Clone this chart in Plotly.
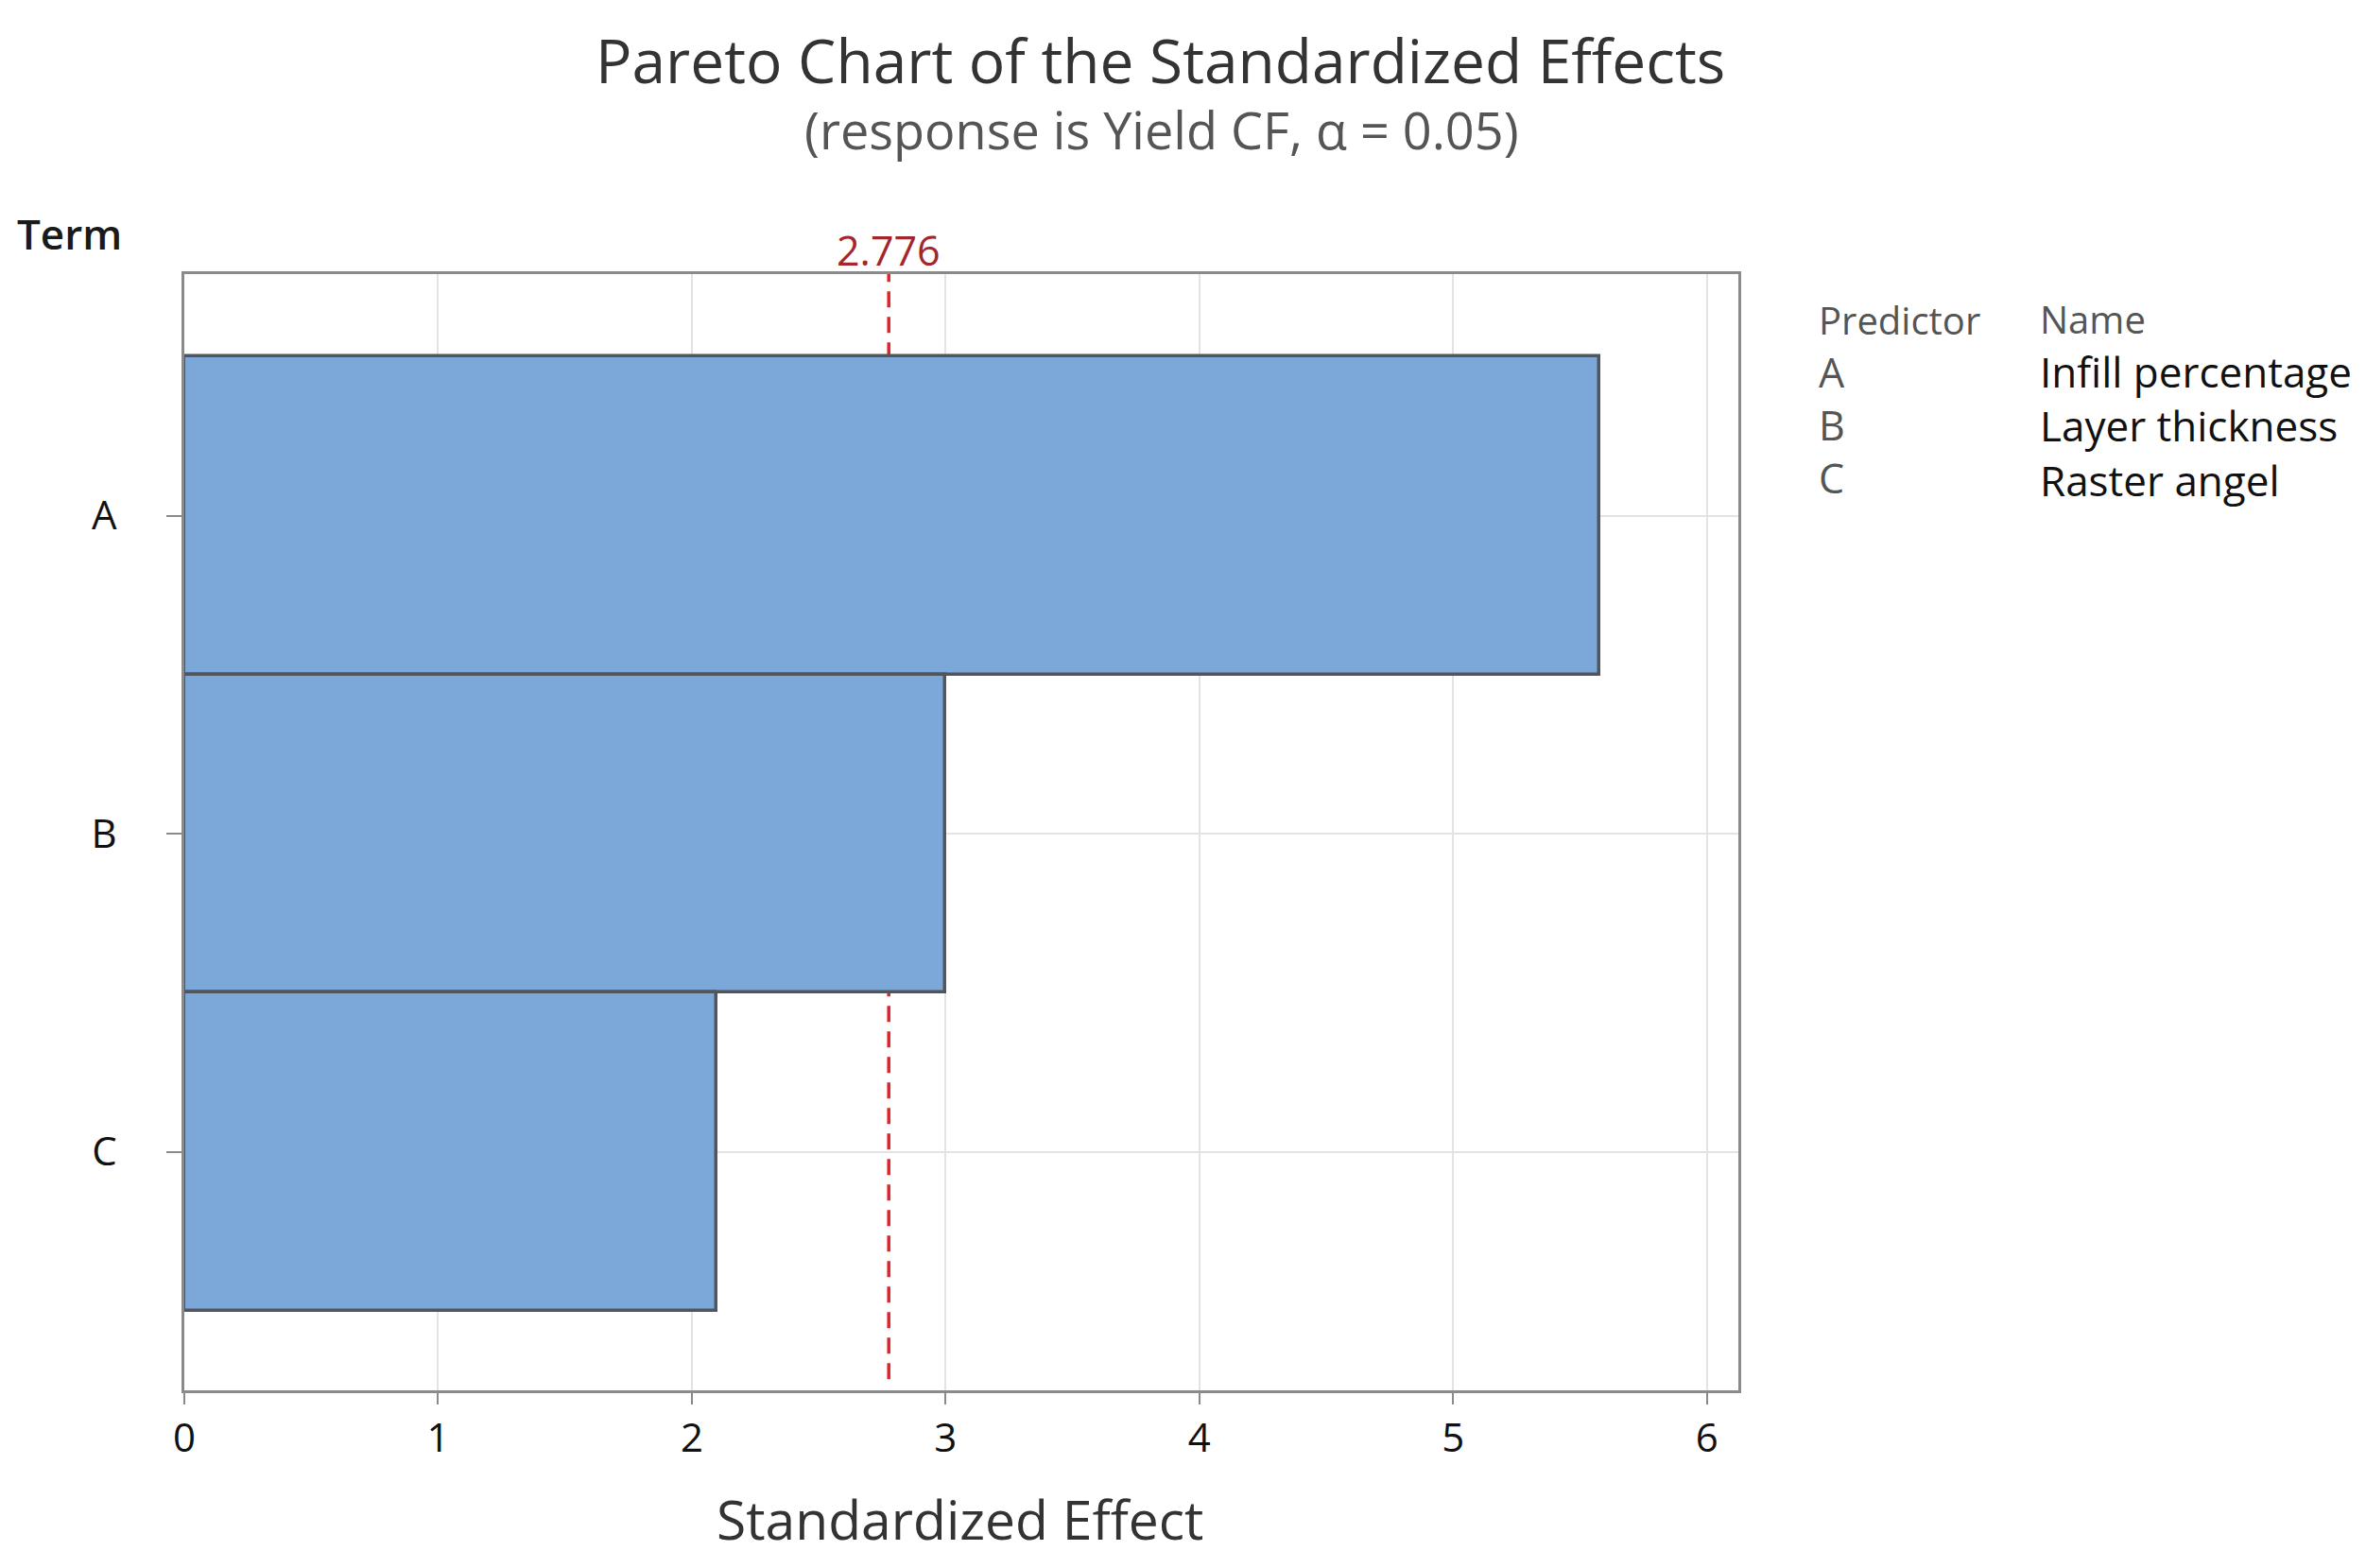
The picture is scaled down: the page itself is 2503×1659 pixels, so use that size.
import plotly.graph_objects as go

# ---- data ----
terms = ["A", "B", "C"]
effects = [5.577, 2.997, 2.099]
critical_value = 2.776
x_ticks = [0, 1, 2, 3, 4, 5, 6]
predictor_letters = ["A", "B", "C"]
predictor_names = ["Infill percentage", "Layer thickness", "Raster angel"]

title_text = "Pareto Chart of the Standardized Effects"
subtitle_text = "(response is Yield CF, α = 0.05)"

# ---- layout geometry (pixels, page coords; page body has an 8px margin) ----
OFF = 8
W, H = 2503 - OFF, 1659 - OFF
L, R, T, B = 195 - OFF, 1839 - OFF, 290 - OFF, 1471 - OFF
FONT = "Open Sans"


def px(xp):
    return (xp - OFF - L) / (R - L)


def py(yp):
    return (B - (yp - OFF)) / (B - T)


fig = go.Figure()
fig.add_trace(go.Bar(
    x=effects, y=terms, orientation="h",
    marker=dict(color="#7ba7d9", line=dict(color="#50565c", width=3.5)),
    width=1.0, showlegend=False, hoverinfo="x+y",
))

# critical value reference line (below the bars)
fig.add_shape(type="line", xref="x", yref="y domain",
              x0=critical_value, x1=critical_value, y0=0.01, y1=1.0,
              layer="below",
              line=dict(color="#e3222a", width=3.5, dash="17px,10px"))

annotations = []
annotations.append(dict(x=critical_value, xref="x", y=1.0, yref="paper",
                        yanchor="middle", yshift=26, showarrow=False,
                        text=f"{critical_value:.3f}",
                        font=dict(family=FONT, size=43, color="#a3262c")))
annotations.append(dict(x=px(1227), xref="paper", y=py(64), yref="paper",
                        xanchor="center", yanchor="middle", showarrow=False,
                        text=title_text,
                        font=dict(family=FONT, size=64, color="#333333")))
annotations.append(dict(x=px(1229), xref="paper", y=py(137), yref="paper",
                        xanchor="center", yanchor="middle", showarrow=False,
                        text=subtitle_text,
                        font=dict(family=FONT, size=54, color="#555555")))
annotations.append(dict(x=px(16), xref="paper", y=py(247), yref="paper",
                        xanchor="left", yanchor="middle", showarrow=False,
                        text="Term",
                        font=dict(family=FONT, size=44, color="#1a1a1a", weight=600)))

# predictor table: two columns, each a multi-line text block
letters_col = "<br>".join(
    ["<span style='font-size:40px'>Predictor</span>"] + predictor_letters)
names_col = "<br>".join(
    ["<span style='font-size:40px;color:#555555'>Name</span>"] + predictor_names)
annotations.append(dict(x=px(1922), xref="paper", y=py(342 - 33), yref="paper",
                        xanchor="left", yanchor="top", align="left",
                        showarrow=False, text=letters_col,
                        font=dict(family=FONT, size=43, color="#555555")))
annotations.append(dict(x=px(2156), xref="paper", y=py(342 - 34), yref="paper",
                        xanchor="left", yanchor="top", align="left",
                        showarrow=False, text=names_col,
                        font=dict(family=FONT, size=44, color="#111111")))

annotations.append(dict(x=px(1015), xref="paper", y=py(1607), yref="paper",
                        xanchor="center", yanchor="middle", showarrow=False,
                        text="Standardized Effect",
                        font=dict(family=FONT, size=57, color="#333333")))

fig.update_layout(
    width=W, height=H,
    margin=dict(l=L, r=W - R, t=T, b=H - B, autoexpand=False),
    paper_bgcolor="white", plot_bgcolor="white",
    bargap=0,
    annotations=annotations,
    font=dict(family=FONT, color="#111111"),
)
fig.update_xaxes(
    range=[0, 6.124], tickvals=x_ticks, ticktext=[str(t) for t in x_ticks],
    showgrid=True, gridcolor="#e3e3e3", gridwidth=2,
    showline=True, linecolor="#8a8a8a", linewidth=3, mirror=True,
    ticks="outside", ticklen=12, tickcolor="#8a8a8a", tickwidth=2,
    tickfont=dict(family=FONT, size=42, color="#111111"),
    zeroline=False,
)
fig.update_yaxes(
    categoryorder="array", categoryarray=terms,
    range=[2.75, -0.76],
    showgrid=True, gridcolor="#e3e3e3", gridwidth=2,
    showline=True, linecolor="#8a8a8a", linewidth=3, mirror=True,
    ticks="outside", ticklen=16, tickcolor="#8a8a8a", tickwidth=2,
    ticklabelstandoff=44,
    tickfont=dict(family=FONT, size=42, color="#111111"),
    zeroline=False,
)

fig.write_html("out.html")
